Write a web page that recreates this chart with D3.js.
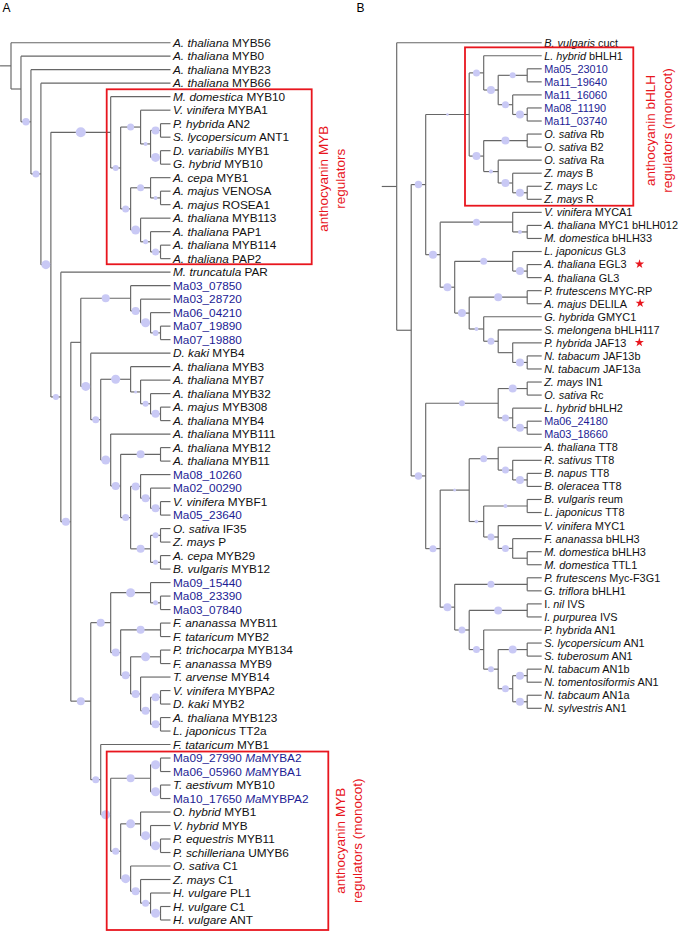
<!DOCTYPE html>
<html><head><meta charset="utf-8">
<script src="https://cdn.jsdelivr.net/npm/d3@7"></script>
<style>body{margin:0;background:#fff}svg{display:block}text{white-space:pre}</style>
</head><body>
<script>
// ---------- DATA ----------
// Panel A leaf labels (top to bottom); {..} = italic
const leavesA = [
"{A. thaliana} MYB56","{A. thaliana} MYB0","{A. thaliana} MYB23","{A. thaliana} MYB66",
"{M. domestica} MYB10","{V. vinifera} MYBA1","{P. hybrida} AN2","{S. lycopersicum} ANT1","{D. variabilis} MYB1","{G. hybrid} MYB10","{A. cepa} MYB1","{A. majus} VENOSA","{A. majus} ROSEA1","{A. thaliana} MYB113","{A. thaliana} PAP1","{A. thaliana} MYB114","{A. thaliana} PAP2",
"{M. truncatula} PAR","Ma03_07850","Ma03_28720","Ma06_04210","Ma07_19890","Ma07_19880","{D. kaki} MYB4","{A. thaliana} MYB3","{A. thaliana} MYB7","{A. thaliana} MYB32","{A. majus} MYB308","{A. thaliana} MYB4","{A. thaliana} MYB111","{A. thaliana} MYB12","{A. thaliana} MYB11","Ma08_10260","Ma02_00290","{V. vinifera} MYBF1","Ma05_23640","{O. sativa} IF35","{Z. mays} P","{A. cepa} MYB29","{B. vulgaris} MYB12","Ma09_15440","Ma08_23390","Ma03_07840","{F. ananassa} MYB11","{F. tataricum} MYB2","{P. trichocarpa} MYB134","{F. ananassa} MYB9","{T. arvense} MYB14","{V. vinifera} MYBPA2","{D. kaki} MYB2","{A. thaliana} MYB123","{L. japonicus} TT2a","{F. tataricum} MYB1","Ma09_27990 {Ma}MYBA2","Ma06_05960 {Ma}MYBA1","{T. aestivum} MYB10","Ma10_17650 {Ma}MYBPA2","{O. hybrid} MYB1","{V. hybrid} MYB","{P. equestris} MYB11","{P. schilleriana} UMYB6","{O. sativa} C1","{Z. mays} C1","{H. vulgare} PL1","{H. vulgare} C1","{H. vulgare} ANT"
];
// Panel A topology: leaves = indices into leavesA, internal nodes ")level:support"
const cladeA_myb  = "(4,((5,((6,7)15:64,(8,9)15:81)14:16)13:49,((10,(11,12)15:16)14:49,(13,(14,(15,16)15:49)14:25)13:81)12:49)11:36)10:100";
const cladeA_ma   = "(18,(19,(20,(21,22)15:36)14:81)13:64)12:64";
const cladeA_flav = "(23,((24,(25,(26,(27,28)15:64)14:36)13:9)12:81,(29,((30,31)15:64,((32,(33,(34,35)15:64)14:64)13:64,((36,37)15:36,(38,39)15:25)14:64)12:49)11:64)10:81)9:49)8:81";
const cladeA_pa   = "((40,(41,42)15:25)14:81,((43,44)15:64,((45,46)15:81,(47,((48,49)15:64,(50,51)15:64)14:64)13:64)12:64)11:64)10:64";
const cladeA_mono = "(52,(((53,54)15:81,(55,56)15:81)14:64,((57,(58,(59,60)15:81)14:81)13:81,(61,(62,(63,(64,65)15:81)14:49)13:64)12:81)11:49)10:81)9:49";
const cladeA_low  = "(17,((" + cladeA_ma + "," + cladeA_flav + ")7:0,(" + cladeA_pa + "," + cladeA_mono + ")8:64)6:64)5:36";
const treeA = "(0,(1,(2,(3,(" + cladeA_myb + "," + cladeA_low + ")4:81)3:49)2:55)1:0)0:0";

// Panel B leaf labels
const leavesB = [
"{B. vulgaris} cuct","{L. hybrid} bHLH1","Ma05_23010","Ma11_19640","Ma11_16060","Ma08_11190","Ma11_03740","{O. sativa} Rb","{O. sativa} B2","{O. sativa} Ra","{Z. mays} B","{Z. mays} Lc","{Z. mays} R",
"{V. vinifera} MYCA1","{A. thaliana} MYC1 bHLH012","{M. domestica} bHLH33","{L. japonicus} GL3","{A. thaliana} EGL3","{A. thaliana} GL3","{P. frutescens} MYC-RP","{A. majus} DELILA","{G. hybrida} GMYC1","{S. melongena} bHLH117","{P. hybrida} JAF13","{N. tabacum} JAF13b","{N. tabacum} JAF13a",
"{Z. mays} IN1","{O. sativa} Rc","{L. hybrid} bHLH2","Ma06_24180","Ma03_18660",
"{A. thaliana} TT8","{R. sativus} TT8","{B. napus} TT8","{B. oleracea} TT8","{B. vulgaris} reum","{L. japonicus} TT8","{V. vinifera} MYC1","{F. ananassa} bHLH3","{M. domestica} bHLH3","{M. domestica} TTL1",
"{P. frutescens} Myc-F3G1","{G. triflora} bHLH1","I. {nil} IVS","{I. purpurea} IVS","{P. hybrida} AN1","{S. lycopersicum} AN1","{S. tuberosum} AN1","{N. tabacum} AN1b","{N. tomentosiformis} AN1","{N. tabcaum} AN1a","{N. sylvestris} AN1"
];
const starredB = [17, 20, 23];
const cladeB_box = "((1,((2,3)9:36,(4,(5,6)9:64)8:49)7:64)6:49,((7,8)9:64,(9,(10,(11,12)9:64)8:64)7:16)6:64)5:6";
const cladeB_myc = "((13,(14,15)9:16)8:49,((16,(17,18)9:64)8:49,((19,20)9:64,(21,(22,(23,(24,25)9:64)8:0)7:49)6:16)5:64)4:64)3:64";
const cladeB_in1 = "((26,27)9:64,(28,(29,30)9:64)8:49)7:36";
const cladeB_tt8 = "((31,(32,(33,34)9:64)8:49)7:49,((35,36)9:16,(37,(38,(39,40)9:0)8:49)7:49)6:13)5:9";
const cladeB_an1 = "((41,42)9:49,((43,44)9:64,(45,((46,47)9:64,((48,49)9:64,(50,51)9:64)8:49)7:36)6:49)5:49)4:64";
const treeB = "(0,((" + cladeB_box + "," + cladeB_myc + ")2:55,(" + cladeB_in1 + ",(" + cladeB_tt8 + "," + cladeB_an1 + ")3:49)2:55)1:0)0:0";

// Box annotations: [first leaf, last leaf, text lines]
const boxesA = [
  {from: 4, to: 16, lines: ["anthocyanin MYB", "regulators"]},
  {from: 53, to: 65, lines: ["anthocyanin MYB", "regulators (monocot)"]}
];
const boxesB = [
  {from: 1, to: 12, lines: ["anthocyanin bHLH", "regulators (monocot)"]}
];

// ---------- DRAWING ----------
const W = 685, H = 936;
const FONT = "'Liberation Sans', Arial, Helvetica, sans-serif";
const LINE = "#666666", DOT = "#c9c9f5", BLUE = "#1c1c94", RED = "#e8161e";

function parseNewick(s) {
  let i = 0;
  function tok() { let t = ""; while (i < s.length && s[i] !== "," && s[i] !== ")") t += s[i++]; return t; }
  function node() {
    if (s[i] === "(") {
      i++;
      const children = [node()];
      while (s[i] === ",") { i++; children.push(node()); }
      i++;
      const [level, support] = tok().split(":").map(Number);
      return {level, support, children};
    }
    return {leaf: +tok()};
  }
  return node();
}

const svg = d3.select("body").append("svg").attr("width", W).attr("height", H)
  .style("font-family", FONT);
svg.append("rect").attr("width", W).attr("height", H).attr("fill", "#fff");

const rScale = d3.scaleSqrt().domain([0, 100]).range([0, 5]);

function drawTree(cfg) {
  const g = svg.append("g");
  const root = d3.hierarchy(parseNewick(cfg.tree), d => d.children);
  const x = d3.scaleLinear().domain([0, cfg.tipLevel]).range(cfg.xRange);
  const y = d3.scaleLinear().domain([0, cfg.labels.length - 1]).range(cfg.yRange);
  root.eachAfter(n => {
    if (!n.children) { n.px = x(cfg.tipLevel); n.py = y(n.data.leaf); }
    else { n.px = x(n.data.level); n.py = (n.children[0].py + n.children[n.children.length - 1].py) / 2; }
  });
  const nodes = root.descendants();
  const lg = g.append("g").attr("fill", "none").attr("stroke", LINE).attr("stroke-width", 1.15);
  lg.append("path").attr("d", `M${x(cfg.stubLevel)},${root.py}H${root.px}`);
  lg.selectAll(".h").data(nodes.filter(n => n.parent)).join("path")
    .attr("d", n => `M${n.parent.px},${n.py}H${n.px}`);
  lg.selectAll(".v").data(nodes.filter(n => n.children)).join("path")
    .attr("d", n => `M${n.px},${n.children[0].py}V${n.children[n.children.length - 1].py}`);
  g.append("g").selectAll("circle")
    .data(nodes.filter(n => n.parent && n.children && n.data.support > 0)).join("circle")
    .attr("cx", n => (n.parent.px + n.px) / 2).attr("cy", n => n.py)
    .attr("r", n => rScale(n.data.support)).attr("fill", DOT);
  const tg = g.append("g").attr("font-size", cfg.fontSize);
  root.leaves().forEach(n => {
    const label = cfg.labels[n.data.leaf];
    const t = tg.append("text").attr("x", n.px + 2.5).attr("y", n.py).attr("dy", "0.36em")
      .attr("fill", label.startsWith("Ma") ? BLUE : "#111");
    label.split(/(\{[^}]*\})/).filter(p => p).forEach(p => {
      if (p.startsWith("{")) t.append("tspan").attr("font-style", "italic").text(p.slice(1, -1));
      else t.append("tspan").text(p);
    });
    if (cfg.starred && cfg.starred.includes(n.data.leaf)) {
      const len = t.node().getComputedTextLength();
      g.append("path").attr("d", d3.symbol(d3.symbolStar, 26)())
        .attr("transform", `translate(${n.px + 2.5 + len + 13},${n.py - 0.5})`).attr("fill", RED);
    }
  });
  cfg.boxes.forEach((b, k) => {
    const bx = cfg.boxX[k];
    const y0 = y(b.from) + cfg.boxPad[k][0], y1 = y(b.to) + cfg.boxPad[k][1];
    g.append("rect").attr("x", bx[0]).attr("y", y0).attr("width", bx[1] - bx[0]).attr("height", y1 - y0)
      .attr("fill", "none").attr("stroke", RED).attr("stroke-width", 1.8);
    const cy = (y0 + y1) / 2 + cfg.labelShift[k];
    b.lines.forEach((line, j) => {
      g.append("text").attr("transform", `translate(${bx[1] + cfg.labelGap + j * 17},${cy}) rotate(-90)`)
        .attr("text-anchor", "middle").attr("dy", "0.35em").attr("font-size", 13.5)
        .attr("fill", RED).text(line);
    });
  });
}

drawTree({
  tree: treeA, labels: leavesA, tipLevel: 16, stubLevel: -1.1,
  xRange: [11, 170.5], yRange: [42.7, 920], fontSize: 11.8,
  boxes: boxesA, boxX: [[106.7, 311.7], [106.7, 328.3]],
  boxPad: [[-7.4, 5.6], [-6.5, 10]], labelGap: 11.5, labelShift: [2, 0]
});
drawTree({
  tree: treeB, labels: leavesB, tipLevel: 10, stubLevel: -1.03, starred: starredB,
  xRange: [396.7, 541.7], yRange: [42.7, 708.3], fontSize: 10.9,
  boxes: boxesB, boxX: [[465, 633.3]],
  boxPad: [[-8.4, 6.4]], labelGap: 16.5, labelShift: [4]
});

svg.append("text").attr("x", 2.5).attr("y", 11.7).attr("font-size", 12).text("A");
svg.append("text").attr("x", 356.5).attr("y", 11.7).attr("font-size", 12).text("B");
</script>
</body></html>
